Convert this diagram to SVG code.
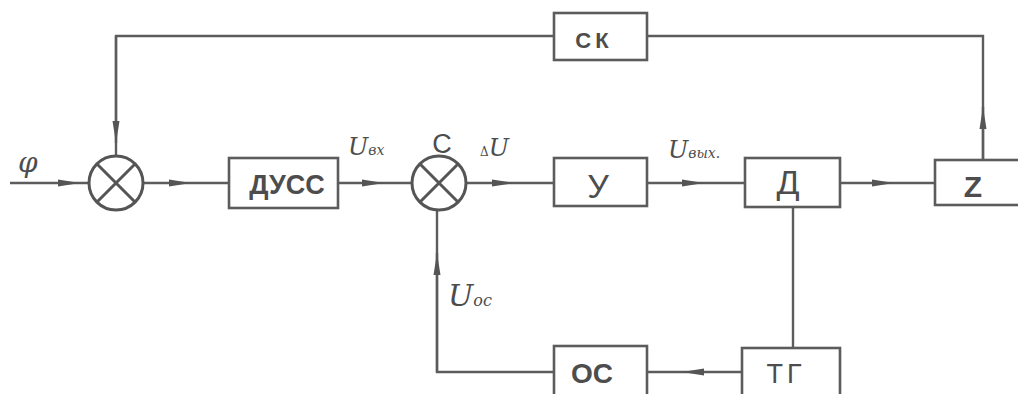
<svg xmlns="http://www.w3.org/2000/svg" width="1018" height="394" viewBox="0 0 1018 394">
<style>
.box{fill:none;stroke:#5c5c5c;stroke-width:2.6}
.ln{fill:none;stroke:#5c5c5c;stroke-width:2.4}
.sum{fill:none;stroke:#555;stroke-width:3}
.lbl{font-family:"Liberation Sans","DejaVu Sans",sans-serif;font-weight:bold;fill:#4d4d4d;text-anchor:middle}
.thin{font-weight:normal}
.hw{font-family:"DejaVu Serif","Liberation Serif",serif;font-style:italic;fill:#4d4d4d}
</style>
<defs>
<marker id="ar" viewBox="0 0 22 10" refX="22" refY="5" markerWidth="22" markerHeight="10" markerUnits="userSpaceOnUse" orient="auto">
<path d="M0,1.5 L22,5 L0,8.5 Z" fill="#555"/>
</marker>
</defs>
<rect width="1018" height="394" fill="#fff"/>

<g id="connectors">
<path class="ln" d="M10,183 L80,183 L89,183" marker-mid="url(#ar)"/>
<path class="ln" d="M143,183 L191,183 L229,183" marker-mid="url(#ar)"/>
<path class="ln" d="M338,183 L384,183 L412,183" marker-mid="url(#ar)"/>
<path class="ln" d="M466,183 L514,183 L554,183" marker-mid="url(#ar)"/>
<path class="ln" d="M647,183 L704,183 L745,183" marker-mid="url(#ar)"/>
<path class="ln" d="M840,183 L894,183 L935,183" marker-mid="url(#ar)"/>
<path class="ln" d="M983,160 L983,107 L983,36 L647,36"/>
<path class="ln" d="M983,160 L983,107" marker-end="url(#ar)"/>
<path class="ln" d="M554,36 L116,36 L116,143 L116,156"/>
<path class="ln" d="M116,36 L116,143" marker-end="url(#ar)"/>
<path class="ln" d="M793,207 L793,348"/>
<path class="ln" d="M742,372 L682,372 L647,372" marker-mid="url(#ar)"/>
<path class="ln" d="M554,372 L437,372 L437,253 L437,210"/>
<path class="ln" d="M437,372 L437,253" marker-end="url(#ar)"/>
</g>

<g id="input-label"><text class="hw" x="18" y="172" font-size="28">φ</text></g>

<g id="sum1">
<circle class="sum" cx="116" cy="183" r="27"/>
<path class="sum" d="M97,164 L135,202 M135,164 L97,202"/>
</g>

<g id="dussc">
<rect class="box" x="229" y="158" width="109" height="50"/>
<text class="lbl" x="287" y="194" font-size="27">ДУСС</text>
</g>

<g id="sum2">
<circle class="sum" cx="439" cy="183" r="27"/>
<path class="sum" d="M420,164 L458,202 M458,164 L420,202"/>
<text class="lbl thin" x="442" y="153" font-size="27">C</text>
</g>

<g id="labels">
<text class="hw" x="348" y="155" font-size="24">U<tspan font-size="14">вх</tspan></text>
<text class="hw" x="480" y="156" font-size="24"><tspan font-size="12" font-style="normal">Δ</tspan>U</text>
<text class="hw" x="668" y="158" font-size="24">U<tspan font-size="14">вых.</tspan></text>
<text class="hw" x="448" y="306" font-size="30">U<tspan font-size="16">ос</tspan></text>
</g>

<g id="y">
<rect class="box" x="554" y="158" width="93" height="48"/>
<text class="lbl thin" x="598" y="198" font-size="34">У</text>
</g>

<g id="d">
<rect class="box" x="745" y="158" width="95" height="49"/>
<text class="lbl thin" x="788" y="194" font-size="34">Д</text>
</g>

<g id="z">
<rect class="box" x="935" y="160" width="90" height="45"/>
<text class="lbl" x="973" y="197" font-size="30">Z</text>
</g>

<g id="ck">
<rect class="box" x="554" y="13" width="93" height="47"/>
<text class="lbl" x="594" y="48" font-size="22" letter-spacing="4">СК</text>
</g>

<g id="oc">
<rect class="box" x="554" y="346" width="93" height="50"/>
<text class="lbl" x="592" y="383" font-size="28">ОС</text>
</g>

<g id="tg">
<rect class="box" x="742" y="348" width="98" height="48"/>
<text class="lbl thin" x="786" y="383" font-size="27" letter-spacing="4">ТГ</text>
</g>
</svg>
